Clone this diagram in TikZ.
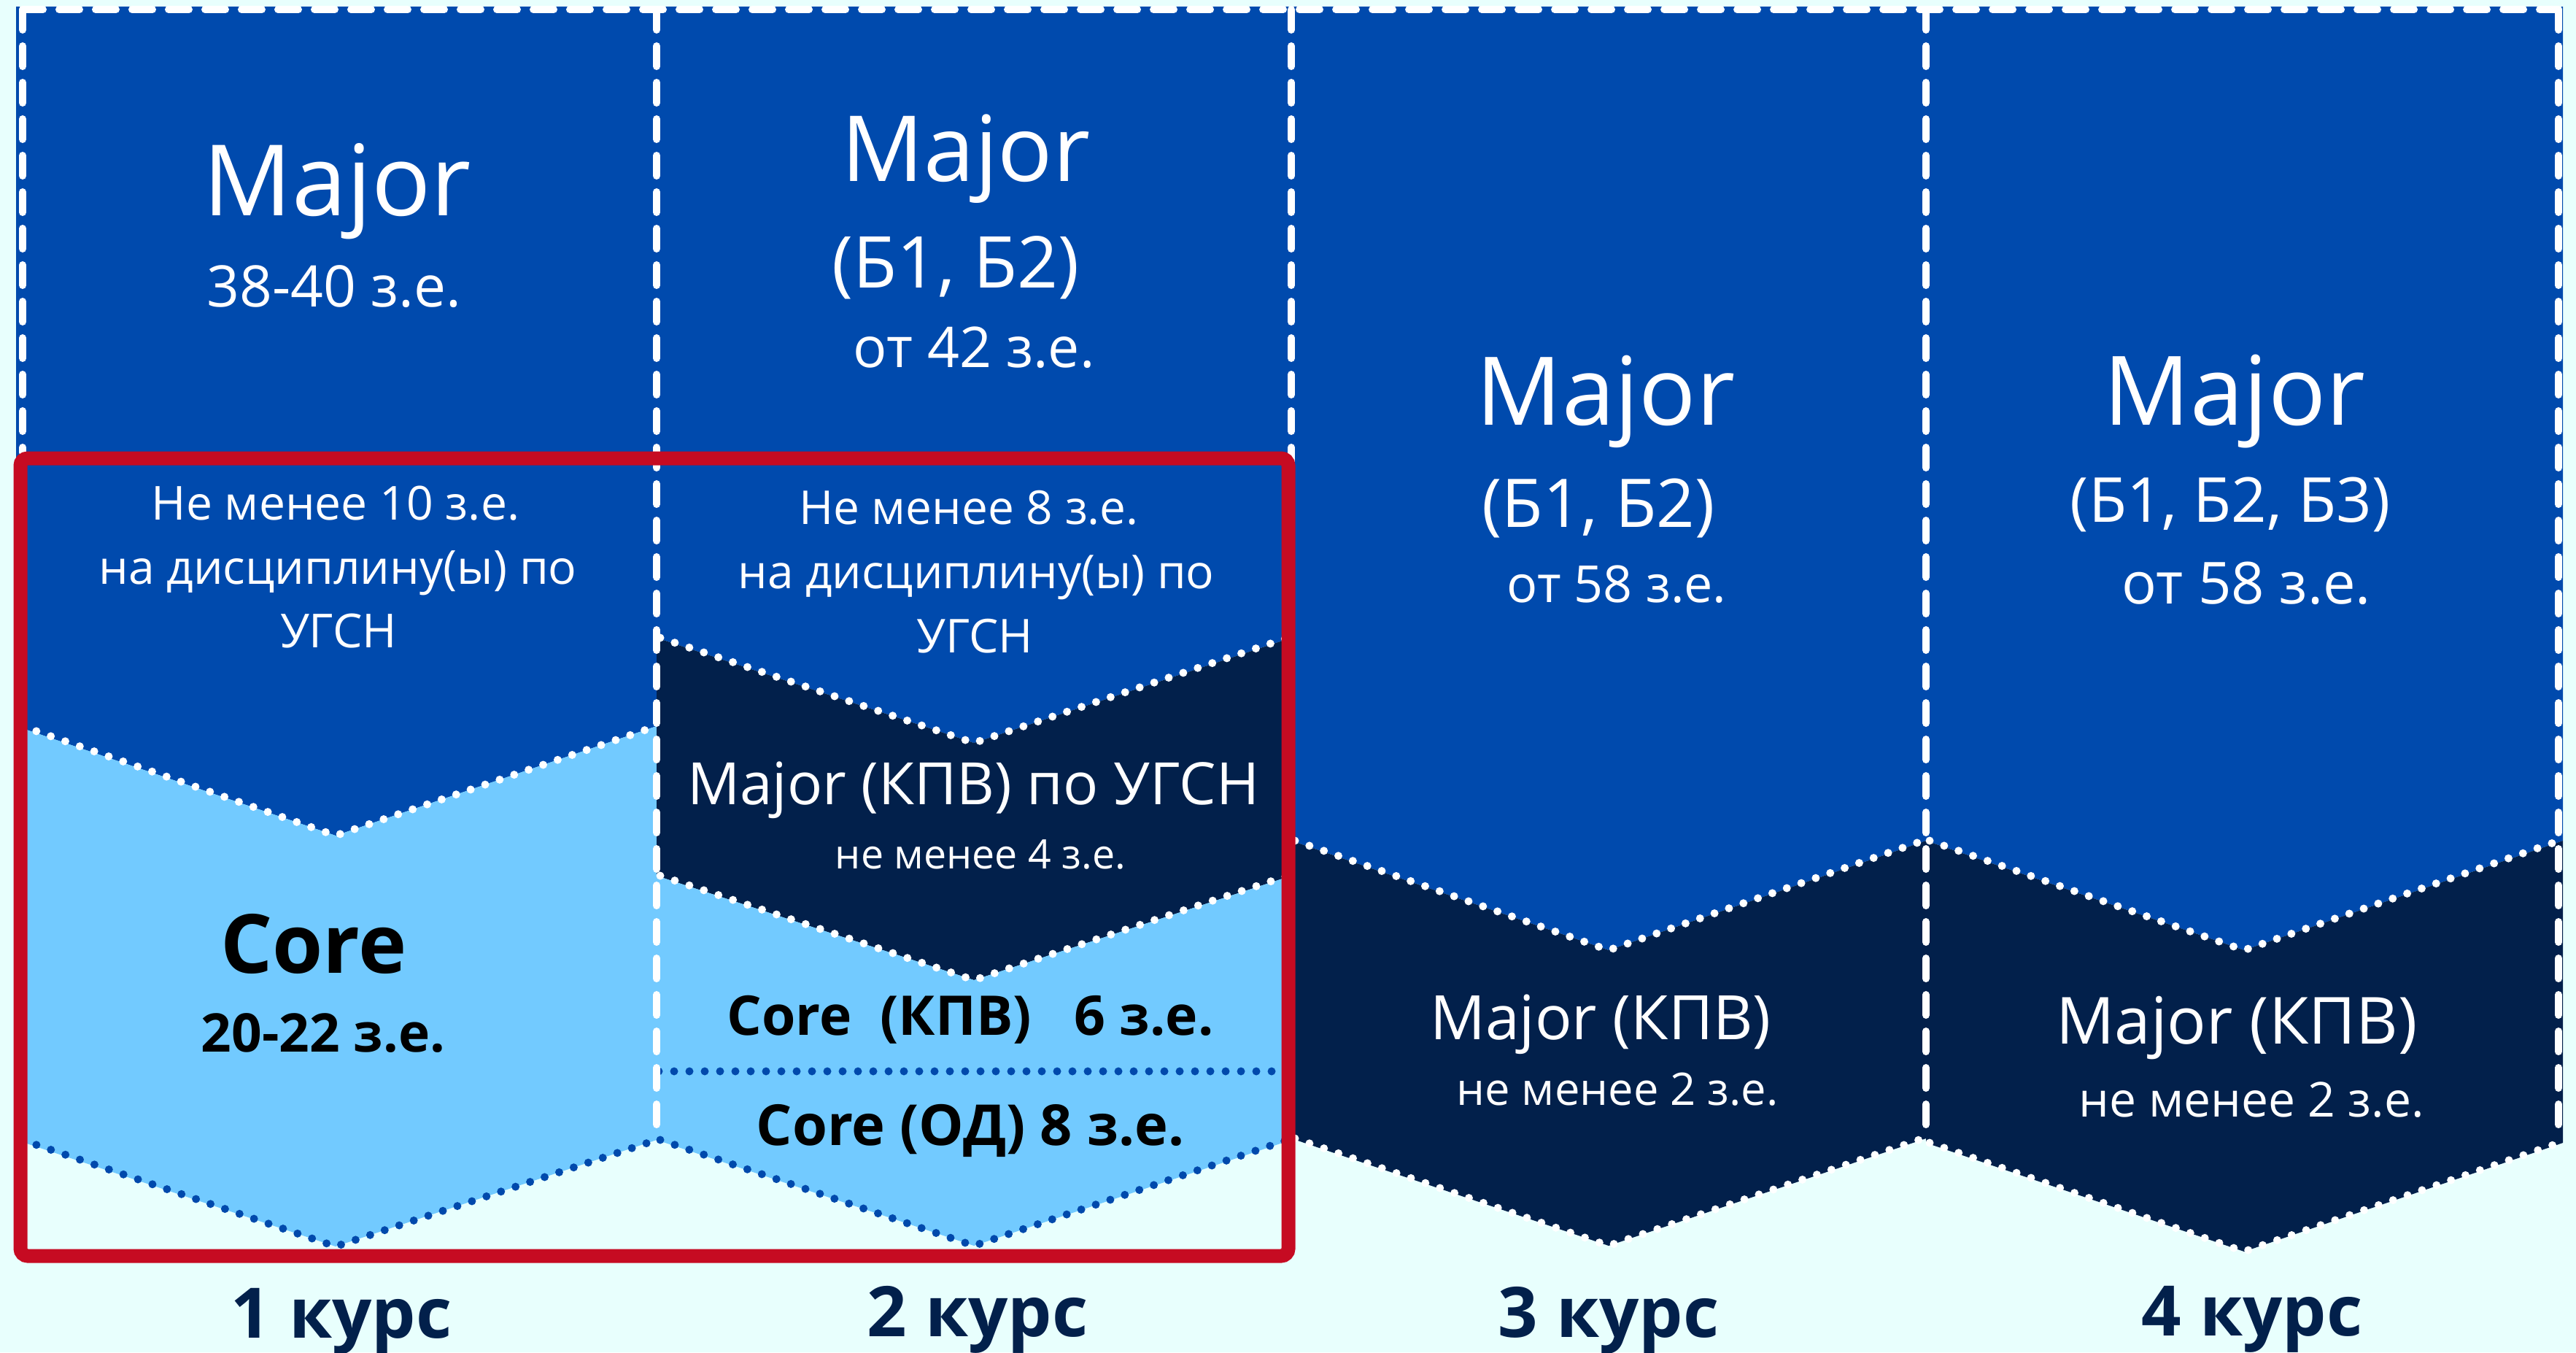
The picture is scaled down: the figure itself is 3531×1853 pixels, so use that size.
\documentclass[tikz,border=0pt]{standalone}
\usepackage{fontspec}
\setmainfont{Open Sans}
\definecolor{bgc}{HTML}{E8FFFD}
\definecolor{bluec}{HTML}{004AAD}
\definecolor{navyc}{HTML}{02204B}
\definecolor{lightc}{HTML}{72CAFF}
\definecolor{redc}{HTML}{C60B22}
\definecolor{dotblue}{HTML}{0049AC}
\newcommand{\myfs}[1]{\fontsize{#1}{#1}\selectfont}
\tikzset{
  wdots/.style={white, line width=2.2pt, line cap=round, dash pattern=on 0pt off 4.2pt},
  bdots/.style={dotblue, line width=2.2pt, line cap=round, dash pattern=on 0pt off 4.2pt},
  wdash/.style={white, line width=2pt, line cap=round, dash pattern=on 5.6pt off 4.4pt},
  lbl/.style={anchor=base, inner sep=0pt, text=white},
  blk/.style={anchor=base, inner sep=0pt, text=black},
  yearlbl/.style={anchor=base, inner sep=0pt, text=navyc, font=\bfseries\myfs{19.1pt}},
}
\begin{document}
\begin{tikzpicture}[x=0.2pt,y=-0.2pt]
\fill[bgc] (0,0) rectangle (3531,1853);
\useasboundingbox (0,0) rectangle (3531,1853);
% column 1
\fill[bluec] (22,9) -- (900,9) -- (900,995) -- (460,1145) -- (22,995) -- cycle;
\fill[lightc] (22,995) -- (460,1145) -- (900,995) -- (900,1562) -- (460,1708) -- (22,1562) -- cycle;
% column 2
\fill[bluec] (900,9) -- (1770,9) -- (1770,874) -- (1335,1018) -- (900,874) -- cycle;
\fill[navyc] (900,874) -- (1335,1018) -- (1770,874) -- (1770,1200) -- (1335,1343) -- (900,1200) -- cycle;
\fill[lightc] (900,1200) -- (1335,1343) -- (1770,1200) -- (1770,1562) -- (1335,1707) -- (900,1562) -- cycle;
% column 3
\fill[bluec] (1770,9) -- (2640,9) -- (2640,1152) -- (2205,1302) -- (1770,1152) -- cycle;
\fill[navyc] (1770,1152) -- (2205,1302) -- (2640,1152) -- (2640,1560) -- (2205,1707) -- (1770,1560) -- cycle;
% column 4
\fill[bluec] (2640,9) -- (3513,9) -- (3513,1152) -- (3076,1302) -- (2640,1152) -- cycle;
\fill[navyc] (2640,1152) -- (3076,1302) -- (3513,1152) -- (3513,1566) -- (3076,1715) -- (2640,1566) -- cycle;
% dotted boundaries
\draw[wdots] (30,995) -- (460,1145) -- (900,995);
\draw[bdots] (30,1562) -- (460,1708) -- (900,1562);
\draw[wdots] (905,874) -- (1335,1018) -- (1765,874);
\draw[wdots] (905,1200) -- (1335,1343) -- (1765,1200);
\draw[bdots] (905,1562) -- (1335,1707) -- (1765,1562);
\draw[bdots] (903,1468) -- (1750,1468);
\draw[wdots] (1775,1152) -- (2205,1302) -- (2636,1152);
\draw[wdots] (1775,1560) -- (2205,1707) -- (2636,1560);
\draw[wdots] (2645,1152) -- (3076,1302) -- (3508,1152);
\draw[wdots] (2645,1566) -- (3076,1715) -- (3508,1566);
% dashed borders
\draw[wdash] (31,13) -- (3507,13);
\draw[wdash] (31,13) -- (31,620);
\draw[wdash] (900,13) -- (900,1555);
\draw[wdash] (1770,13) -- (1770,1555);
\draw[wdash] (2640,13) -- (2640,1555);
\draw[wdash] (3507,13) -- (3507,1560);
% texts column 1
\node[lbl, font=\myfs{27pt}] (maj1) at (462,295) {Major};
\node[lbl, font=\myfs{15.7pt}] (ze1) at (458,420) {38-40 з.е.};
\node[lbl, font=\myfs{12.85pt}] (a1) at (460,712) {Не менее 10 з.е.};
\node[lbl, font=\myfs{12.85pt}] (b1) at (463,800) {на дисциплину(ы) по};
\node[lbl, font=\myfs{12.85pt}] (c1) at (464,887) {УГСН};
\node[blk, font=\bfseries\myfs{22.4pt}] (core1) at (430,1333) {Core};
\node[blk, font=\bfseries\myfs{14.6pt}] (cz1) at (443,1441) {20-22 з.е.};
% texts column 2
\node[lbl, font=\myfs{25pt}] (maj2) at (1324,248) {Major};
\node[lbl, font=\myfs{19.6pt}] (bb2) at (1310,394) {(Б1, Б2)};
\node[lbl, font=\myfs{15.4pt}] (ze2) at (1335,503) {от 42 з.е.};
\node[lbl, font=\myfs{12.8pt}] (a2) at (1328,718) {Не менее 8 з.е.};
\node[lbl, font=\myfs{12.8pt}] (b2) at (1338,806) {на дисциплину(ы) по};
\node[lbl, font=\myfs{12.8pt}] (c2) at (1336,894) {УГСН};
\node[lbl, font=\myfs{16pt}] (mk2) at (1334,1102) {Major (КПВ) по УГСН};
\node[lbl, font=\myfs{11.1pt}] (mz2) at (1344,1190) {не менее 4 з.е.};
\node[blk, font=\bfseries\myfs{15pt}] (ck2) at (1330,1418) {Core\ \ (КПВ)\ \ \ 6 з.е.};
\node[blk, font=\bfseries\myfs{15.5pt}] (co2) at (1330,1569) {Core (ОД) 8 з.е.};
% texts column 3
\node[lbl, font=\myfs{26pt}] (maj3) at (2201,582) {Major};
\node[lbl, font=\myfs{18.4pt}] (bb3) at (2191,722) {(Б1, Б2)};
\node[lbl, font=\myfs{14pt}] (ze3) at (2216,825) {от 58 з.е.};
\node[lbl, font=\myfs{16.8pt}] (mk3) at (2194,1424) {Major (КПВ)};
\node[lbl, font=\myfs{12.3pt}] (mz3) at (2217,1514) {не менее 2 з.е.};
% texts column 4
\node[lbl, font=\myfs{26.3pt}] (maj4) at (3063,582) {Major};
\node[lbl, font=\myfs{17pt}] (bb4) at (3057,715) {(Б1, Б2, Б3)};
\node[lbl, font=\myfs{15.9pt}] (ze4) at (3079,827) {от 58 з.е.};
\node[lbl, font=\myfs{17.8pt}] (mk4) at (3066,1430) {Major (КПВ)};
\node[lbl, font=\myfs{13.2pt}] (mz4) at (3086,1530) {не менее 2 з.е.};
% year labels
\node[yearlbl] (y1) at (468,1833) {1 курс};
\node[yearlbl] (y2) at (1340,1831) {2 курс};
\node[yearlbl] (y3) at (2205,1832) {3 курс};
\node[yearlbl] (y4) at (3087,1830) {4 курс};
% red frame
\draw[redc, line width=3.8pt, rounded corners=2pt] (28,628) rectangle (1766,1721);
\end{tikzpicture}
\end{document}
